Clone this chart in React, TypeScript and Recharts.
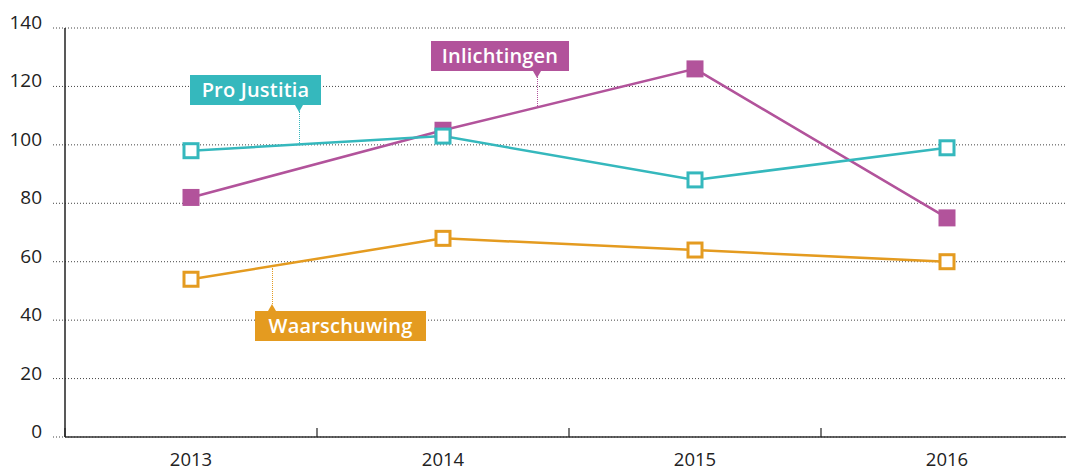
import React from 'react';
import { LineChart, Line, XAxis, YAxis, CartesianGrid } from 'recharts';

const YEARS = ['2013', '2014', '2015', '2016'];
const PRO_JUSTITIA = [98, 103, 88, 99];
const INLICHTINGEN = [82, 105, 126, 75];
const WAARSCHUWING = [54, 68, 64, 60];
const Y_TICKS = [0, 20, 40, 60, 80, 100, 120, 140];

const TEAL = '#35b8bd';
const PURPLE = '#b2539b';
const ORANGE = '#e49b20';
const INK = '#222';
const FONT = '"Open Sans", sans-serif';

const W = 1081;
const H = 471;
const MARGIN = { top: 28, right: 8, left: 0, bottom: 0 };
const Y_WIDTH = 65;
const BAND = (W - MARGIN.left - MARGIN.right - Y_WIDTH) / YEARS.length;

const data = YEARS.map((year, i) => ({
  year,
  pro: PRO_JUSTITIA[i],
  inl: INLICHTINGEN[i],
  waa: WAARSCHUWING[i],
}));

// callout boxes, placed over the chart
const LABELS = [
  { text: 'Pro Justitia', color: TEAL, left: 190, top: 75, width: 131, pointerX: 299, lineTo: 143, up: false },
  { text: 'Inlichtingen', color: PURPLE, left: 431, top: 41, width: 138, pointerX: 537, lineTo: 108, up: false },
  { text: 'Waarschuwing', color: ORANGE, left: 255, top: 311, width: 171, pointerX: 272, lineTo: 268, up: true },
];
const BOX_H = 30;

const hollowSquare = (color: string) => (props: any) => {
  const { cx, cy, index } = props;
  return <rect key={index} x={cx - 7} y={cy - 7} width={14} height={14} fill="#fff" stroke={color} strokeWidth={3} />;
};

const filledSquare = (color: string) => (props: any) => {
  const { cx, cy, index } = props;
  return <rect key={index} x={cx - 8.5} y={cy - 8.5} width={17} height={17} fill={color} />;
};

const YTick = ({ x, y, payload }: any) => (
  <text x={x} y={y + 1} textAnchor="end" fill={INK} fontSize={19} fontFamily={FONT}>
    {payload.value}
  </text>
);

const XTick = ({ x, y, payload, index }: any) => {
  const half = BAND / 2;
  return (
    <g>
      <line x1={x - half} x2={x - half} y1={y} y2={y - 9} stroke={INK} strokeWidth={1.2} />
      {index === YEARS.length - 1 && <line x1={x + half} x2={x + half} y1={y} y2={y - 9} stroke={INK} strokeWidth={1.2} />}
      <text x={x} y={y + 29} textAnchor="middle" fill={INK} fontSize={18.5} fontFamily={FONT}>
        {payload.value}
      </text>
    </g>
  );
};

const Callout = ({ l }: any) => {
  const boxBottom = l.top + BOX_H;
  const triTop = l.up ? l.top - 7 : boxBottom;
  const lineTop = l.up ? l.lineTo : boxBottom + 6;
  const lineBottom = l.up ? l.top - 7 : l.lineTo;
  return (
    <>
      <div
        style={{
          position: 'absolute', left: l.left, top: l.top, width: l.width, height: BOX_H,
          background: l.color, color: '#fff', fontFamily: FONT, fontWeight: 600, fontSize: 20,
          lineHeight: `${BOX_H}px`, textAlign: 'center', letterSpacing: 0.2,
        }}
      >
        {l.text}
      </div>
      <div
        style={{
          position: 'absolute', left: l.pointerX - 4, top: triTop, width: 0, height: 0,
          borderLeft: '4px solid transparent', borderRight: '4px solid transparent',
          ...(l.up ? { borderBottom: `7px solid ${l.color}` } : { borderTop: `7px solid ${l.color}` }),
        }}
      />
      <div
        style={{
          position: 'absolute', left: l.pointerX - 0.5, top: lineTop, height: lineBottom - lineTop,
          borderLeft: `1px dotted ${l.color}`,
        }}
      />
    </>
  );
};

export default function App() {
  return (
    <div style={{ position: 'absolute', left: 0, top: 0, width: 1066, height: 471, overflow: 'hidden', background: '#fff' }}>
      <LineChart width={W} height={H} data={data} margin={MARGIN}>
        <CartesianGrid horizontal vertical={false} stroke="#444" strokeDasharray="1 2" />
        <XAxis
          dataKey="year"
          height={34}
          padding={{ left: BAND / 2, right: BAND / 2 }}
          axisLine={{ stroke: '#333', strokeWidth: 1.5 }}
          tickLine={false}
          tickSize={0}
          tickMargin={0}
          tick={<XTick />}
          interval={0}
        />
        <YAxis
          width={Y_WIDTH}
          domain={[0, 140]}
          ticks={Y_TICKS}
          axisLine={{ stroke: INK, strokeWidth: 1.5 }}
          tickLine={{ stroke: '#444', strokeDasharray: '1 2' }}
          tickSize={12}
          tickMargin={11}
          tick={<YTick />}
          interval={0}
        />
        <Line dataKey="waa" stroke={ORANGE} strokeWidth={2.5} dot={hollowSquare(ORANGE)} isAnimationActive={false} />
        <Line dataKey="inl" stroke={PURPLE} strokeWidth={2.5} dot={filledSquare(PURPLE)} isAnimationActive={false} />
        <Line dataKey="pro" stroke={TEAL} strokeWidth={2.5} dot={hollowSquare(TEAL)} isAnimationActive={false} />
      </LineChart>
      {LABELS.map((l) => (
        <Callout key={l.text} l={l} />
      ))}
    </div>
  );
}
